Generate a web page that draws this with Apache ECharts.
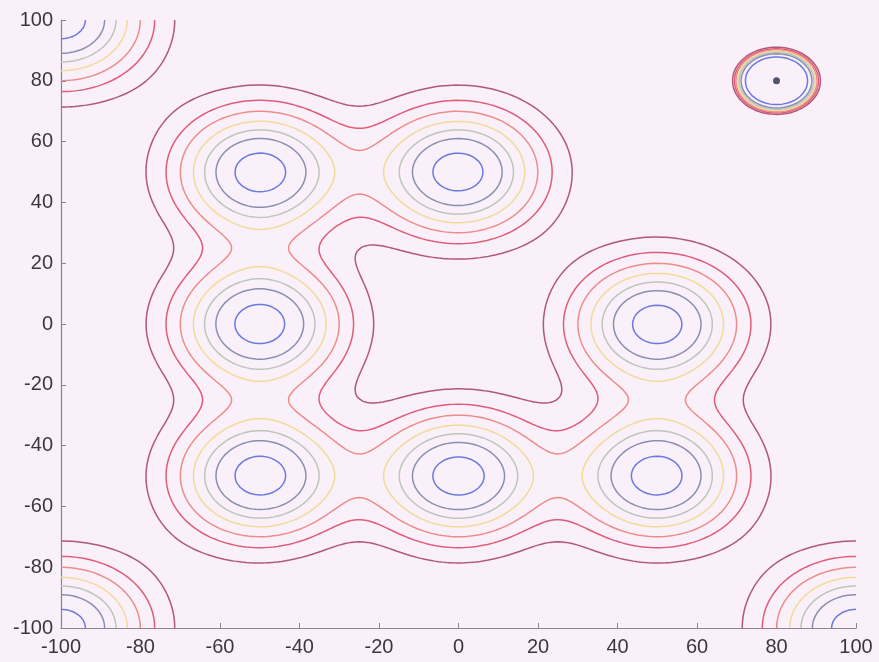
<!DOCTYPE html>
<html>
<head>
<meta charset="utf-8">
<script src="https://cdn.jsdelivr.net/npm/echarts@6/dist/echarts.min.js"></script>
<style>
  html, body { margin: 0; padding: 0; background: #f9f0f9; }
  #chart { width: 879px; height: 662px; }
</style>
</head>
<body>
<div id="chart"></div>
<script>
// Gaussian wells of the surface: centre coordinates
const wellX = [-50, 0, -50, 50, -50, 0, 50, -100, -100, 100];
const wellY = [50, 50, 0, 0, -50, -50, -50, 100, -100, -100];
const wellSpread = 400;          // 2 * sigma^2

// Steep-walled bump with a marked centre
const bumpX = [80];
const bumpY = [80];
const bumpRadius = 10.2;
const bumpPower = 9;

// Contour levels, outermost first, and their line colours
const levels = [0.13, 0.25, 0.37, 0.5, 0.62, 0.74, 0.91];
const levelColors = ['#b0587a', '#e05c78', '#ee8c88', '#f2da98', '#bec6bc', '#8a8fb2', '#6c7ae0'];

// Axis ticks
const axisMin = -100, axisMax = 100, tickStep = 20;

function field(x, y) {
  let s = 0;
  for (let k = 0; k < wellX.length; k++) {
    const dx = x - wellX[k], dy = y - wellY[k];
    s += Math.exp(-(dx * dx + dy * dy) / wellSpread);
  }
  for (let k = 0; k < bumpX.length; k++) {
    const r = Math.hypot(x - bumpX[k], y - bumpY[k]) / bumpRadius;
    s += Math.exp(-Math.pow(r, bumpPower));
  }
  return s;
}

// Sample the surface on a regular grid
const step = 0.5;
const n = Math.round((axisMax - axisMin) / step) + 1;
const gx = [], Z = [];
for (let i = 0; i < n; i++) gx.push(axisMin + i * step);
for (let j = 0; j < n; j++) {
  const row = new Float64Array(n);
  for (let i = 0; i < n; i++) row[i] = field(gx[i], gx[j]);
  Z.push(row);
}

// Marching squares: returns polylines for one level
function contour(L) {
  const pts = new Map();          // edge key -> [x, y]
  const adj = new Map();          // edge key -> list of neighbour edge keys
  const H = 0, V = n * n;
  function edgePoint(key, x1, y1, v1, x2, y2, v2) {
    if (!pts.has(key)) {
      const t = (L - v1) / (v2 - v1);
      pts.set(key, [x1 + t * (x2 - x1), y1 + t * (y2 - y1)]);
    }
  }
  function link(a, b) {
    if (!adj.has(a)) adj.set(a, []);
    if (!adj.has(b)) adj.set(b, []);
    adj.get(a).push(b);
    adj.get(b).push(a);
  }
  for (let j = 0; j < n - 1; j++) {
    for (let i = 0; i < n - 1; i++) {
      const va = Z[j][i], vb = Z[j][i + 1], vc = Z[j + 1][i + 1], vd = Z[j + 1][i];
      const c = (va > L ? 1 : 0) | (vb > L ? 2 : 0) | (vc > L ? 4 : 0) | (vd > L ? 8 : 0);
      if (c === 0 || c === 15) continue;
      const x0 = gx[i], x1 = gx[i + 1], y0 = gx[j], y1 = gx[j + 1];
      const e = [H + j * n + i, V + j * n + i + 1, H + (j + 1) * n + i, V + j * n + i];
      const mk = k => {
        if (k === 0) edgePoint(e[0], x0, y0, va, x1, y0, vb);
        else if (k === 1) edgePoint(e[1], x1, y0, vb, x1, y1, vc);
        else if (k === 2) edgePoint(e[2], x0, y1, vd, x1, y1, vc);
        else edgePoint(e[3], x0, y0, va, x0, y1, vd);
        return e[k];
      };
      const seg = (p, q) => link(mk(p), mk(q));
      const centre = (va + vb + vc + vd) / 4 > L;
      switch (c) {
        case 1: case 14: seg(3, 0); break;
        case 2: case 13: seg(0, 1); break;
        case 3: case 12: seg(3, 1); break;
        case 4: case 11: seg(1, 2); break;
        case 6: case 9: seg(0, 2); break;
        case 7: case 8: seg(3, 2); break;
        case 5:
          if (centre) { seg(0, 1); seg(2, 3); } else { seg(3, 0); seg(1, 2); }
          break;
        case 10:
          if (centre) { seg(3, 0); seg(1, 2); } else { seg(0, 1); seg(2, 3); }
          break;
      }
    }
  }
  // Chain the segments into polylines
  const used = new Set();
  const lines = [];
  function walk(start) {
    const line = [start];
    used.add(start);
    let cur = start;
    while (true) {
      const nb = adj.get(cur).find(k => !used.has(k));
      if (nb === undefined) break;
      used.add(nb);
      line.push(nb);
      cur = nb;
    }
    return line;
  }
  // open chains begin at ends with a single neighbour
  for (const [k, list] of adj) {
    if (!used.has(k) && list.length === 1) lines.push({ keys: walk(k), closed: false });
  }
  for (const k of adj.keys()) {
    if (!used.has(k)) lines.push({ keys: walk(k), closed: true });
  }
  return lines.map(l => {
    const p = l.keys.map(k => pts.get(k));
    if (l.closed) p.push(p[0]);
    return p;
  });
}

const series = [];
levels.forEach((L, li) => {
  contour(L).forEach(poly => {
    series.push({
      type: 'line',
      data: poly,
      showSymbol: false,
      symbol: 'none',
      silent: true,
      clip: true,
      lineStyle: { color: levelColors[li], width: 1.5 },
      z: 2
    });
  });
});
series.push({
  type: 'scatter',
  data: bumpX.map((x, k) => [x, bumpY[k]]),
  symbol: 'circle',
  symbolSize: 7,
  itemStyle: { color: '#2c2c54' },
  silent: true,
  z: 3
});

const axisCommon = {
  type: 'value',
  min: axisMin,
  max: axisMax,
  interval: tickStep,
  splitLine: { show: false },
  axisLine: { onZero: false, lineStyle: { color: '#8a8490', width: 1.2 } },
  axisTick: { inside: true, length: 5, lineStyle: { color: '#8a8490' } },
  axisLabel: { color: '#3a383e', fontSize: 20, fontFamily: 'Liberation Sans, Arial, sans-serif' }
};

const chart = echarts.init(document.getElementById('chart'), null, { renderer: 'canvas' });
chart.setOption({
  backgroundColor: '#f9f0f9',
  animation: false,
  grid: { left: 61, right: 23, top: 20, bottom: 34 },
  xAxis: Object.assign({}, axisCommon, { axisLabel: Object.assign({}, axisCommon.axisLabel, { margin: 9 }) }),
  yAxis: Object.assign({}, axisCommon, { axisLabel: Object.assign({}, axisCommon.axisLabel, { margin: 8 }) }),
  series: series
});
</script>
</body>
</html>
